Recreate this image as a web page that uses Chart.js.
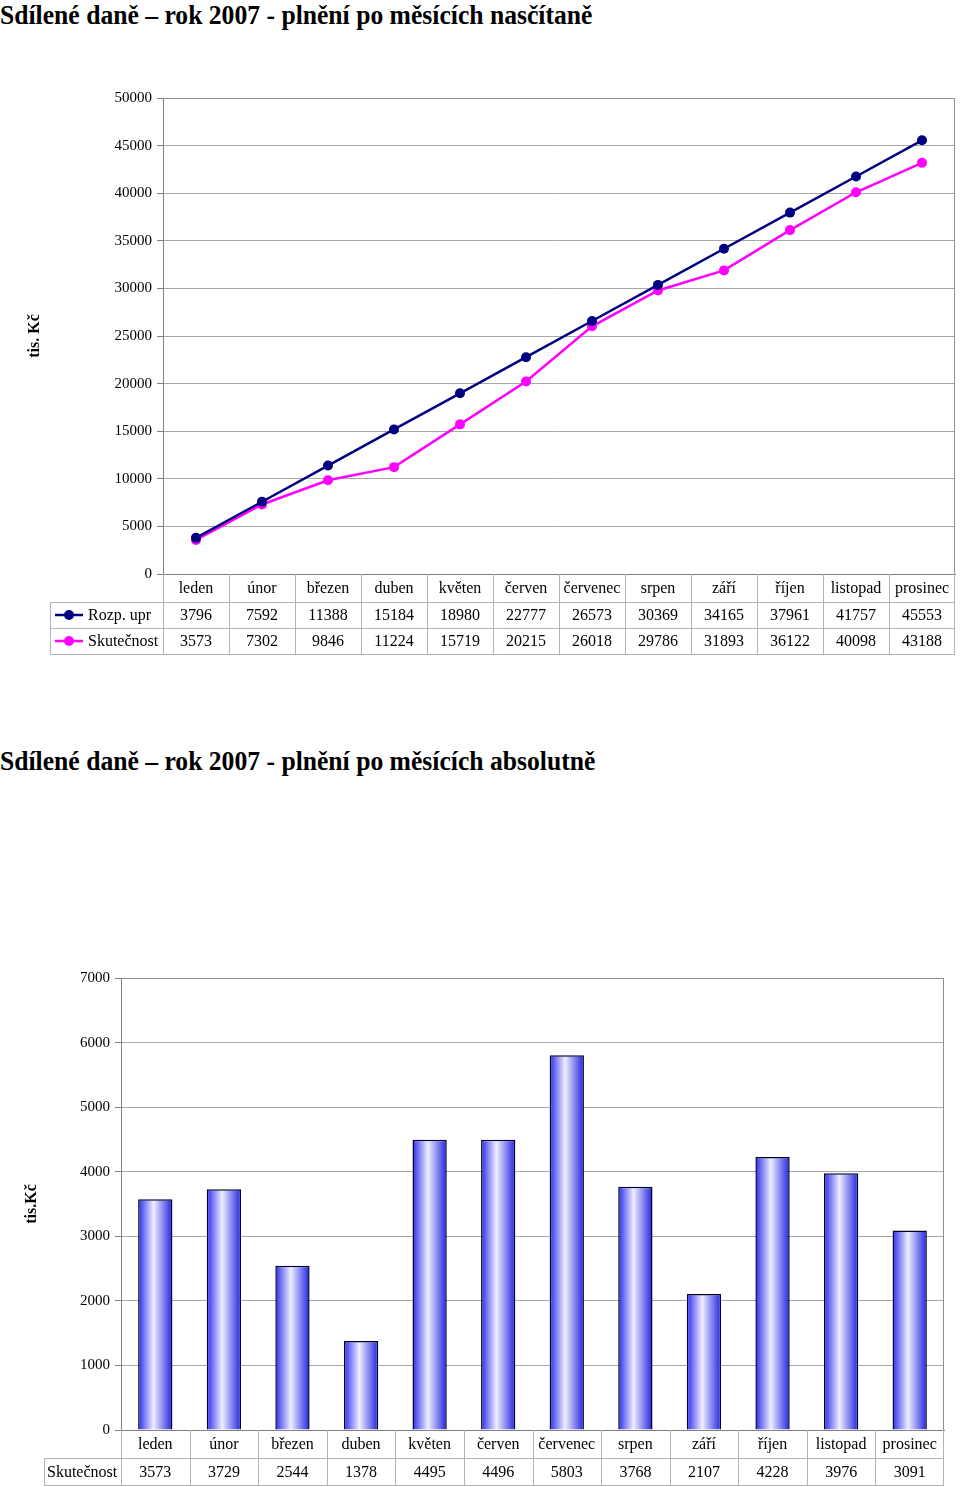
<!DOCTYPE html>
<html>
<head>
<meta charset="utf-8">
<script src="https://cdn.jsdelivr.net/npm/chart.js@4/dist/chart.umd.min.js"></script>
<style>
body{margin:0;background:#fff;width:960px;height:1487px;position:relative;overflow:hidden;font-family:"Liberation Serif","Times New Roman",serif;}
h1{position:absolute;left:0;margin:0;font-size:28px;line-height:32px;font-weight:bold;white-space:nowrap;color:#000;transform:scaleX(0.915);transform-origin:0 0;}
canvas{position:absolute;left:0;}
</style>
</head>
<body>
<h1 style="top:-1px">Sdílené daně – rok 2007 - plnění po měsících nasčítaně</h1>
<canvas id="cumChart" width="960" height="630" style="top:40px"></canvas>
<h1 style="top:745px">Sdílené daně – rok 2007 - plnění po měsících absolutně</h1>
<canvas id="monthChart" width="960" height="687" style="top:800px"></canvas>
<script>
const MONTHS = ["leden","únor","březen","duben","květen","červen","červenec","srpen","září","říjen","listopad","prosinec"];
const ROZP_UPR = [3796,7592,11388,15184,18980,22777,26573,30369,34165,37961,41757,45553];
const SKUT_CUM = [3573,7302,9846,11224,15719,20215,26018,29786,31893,36122,40098,43188];
const SKUT_MONTH = [3573,3729,2544,1378,4495,4496,5803,3768,2107,4228,3976,3091];

const FONT = "'Liberation Serif','Times New Roman',serif";
const NAVY = "#000080", MAGENTA = "#ff00ff";
const $ = (id) => document.getElementById(id);

// draws data table under the plot + y title + plot border
const tablePlugin = {
  id: "dataTable",
  afterDraw(chart, args, o){
    const ctx = chart.ctx, xs = chart.scales.x, a = chart.chartArea;
    const n = MONTHS.length, colW = xs.width / n;
    const hdrBot = a.bottom + o.headerH;
    const bot = hdrBot + o.rowH * o.rows.length;
    ctx.save();
    ctx.strokeStyle = "#b4b4b4"; ctx.lineWidth = 1;
    ctx.beginPath();
    for(let k=1;k<n;k++){
      const px = Math.round(xs.left + k*colW) + 0.5;
      ctx.moveTo(px, a.bottom); ctx.lineTo(px, bot);
    }
    ctx.moveTo(o.left+0.5, hdrBot); ctx.lineTo(o.left+0.5, bot);
    ctx.moveTo(Math.round(xs.left)+0.5, a.bottom); ctx.lineTo(Math.round(xs.left)+0.5, bot);
    ctx.moveTo(Math.round(xs.right)-0.5, a.bottom); ctx.lineTo(Math.round(xs.right)-0.5, bot);
    for(let r=0;r<=o.rows.length;r++){
      const py = Math.round(hdrBot + r*o.rowH) + 0.5;
      ctx.moveTo(o.left, py); ctx.lineTo(xs.right, py);
    }
    ctx.stroke();

    ctx.strokeStyle = "#909090";
    ctx.beginPath();
    ctx.moveTo(a.left, a.top+0.5); ctx.lineTo(Math.round(a.right)-0.5, a.top+0.5);
    ctx.lineTo(Math.round(a.right)-0.5, a.bottom);
    ctx.stroke();

    ctx.fillStyle = "#000";
    ctx.font = "16px " + FONT;
    ctx.textBaseline = "middle";
    o.rows.forEach((row, r)=>{
      const cy = hdrBot + r*o.rowH + o.rowH/2 + 1;
      ctx.textAlign = "center";
      row.values.forEach((v,i)=> ctx.fillText(String(v), xs.getPixelForValue(i), cy));
      ctx.textAlign = "left";
      if(row.color){
        ctx.strokeStyle = row.color; ctx.lineWidth = 2.5;
        ctx.beginPath(); ctx.moveTo(o.left+5, cy-1); ctx.lineTo(o.left+33, cy-1); ctx.stroke();
        ctx.fillStyle = row.color;
        ctx.beginPath(); ctx.arc(o.left+19, cy-1, 5, 0, Math.PI*2); ctx.fill();
        ctx.fillStyle = "#000";
        ctx.fillText(row.label, o.left+38, cy);
      }else{
        ctx.fillText(row.label, o.left+3, cy);
      }
    });

    ctx.translate(o.yTitleX, (a.top + a.bottom)/2);
    ctx.rotate(-Math.PI/2);
    ctx.textAlign = "center";
    ctx.font = "bold 16px " + FONT;
    ctx.fillText(o.yTitle, 0, 0);
    ctx.restore();
  }
};

function xAxis(height){
  return {
    offset: true,
    grid: { display:false, drawTicks:false },
    border: { color:"#808080", width:1 },
    ticks: { color:"#000", font:{ family:FONT, size:16 }, padding:5, maxRotation:0, autoSkip:false },
    afterFit(s){ s.height = height; }
  };
}
function yAxis(width, max, step){
  return {
    min: 0, max: max,
    grid: { color:"#a8a8a8", tickLength:6, tickColor:"#808080" },
    border: { color:"#808080", width:1 },
    ticks: { stepSize:step, color:"#000", font:{ family:FONT, size:15 }, padding:5, callback:(v)=>String(v) },
    afterFit(s){ s.width = width; }
  };
}

new Chart($("cumChart"), {
  type: "line",
  data: {
    labels: MONTHS,
    datasets: [
      { label:"Rozp. upr", data:ROZP_UPR, borderColor:NAVY, backgroundColor:NAVY, borderWidth:2.5, pointRadius:5, pointBorderWidth:0, tension:0 },
      { label:"Skutečnost", data:SKUT_CUM, borderColor:MAGENTA, backgroundColor:MAGENTA, borderWidth:2.5, pointRadius:5, pointBorderWidth:0, tension:0 }
    ]
  },
  options: {
    responsive:false, animation:false,
    layout: { padding:{ top:58, right:4, left:0, bottom:16 } },
    plugins: {
      legend:{ display:false }, tooltip:{ enabled:false },
      dataTable: {
        left:50, headerH:28, rowH:26, yTitle:"tis. Kč", yTitleX:35,
        rows: [
          { label:"Rozp. upr", values:ROZP_UPR, color:NAVY },
          { label:"Skutečnost", values:SKUT_CUM, color:MAGENTA }
        ]
      }
    },
    scales: { x: xAxis(80), y: yAxis(163, 50000, 5000) }
  },
  plugins: [tablePlugin]
});

new Chart($("monthChart"), {
  type: "bar",
  data: {
    labels: MONTHS,
    datasets: [{
      label:"Skutečnost", data:SKUT_MONTH,
      categoryPercentage:1, barPercentage:0.5,
      borderColor:"#00002a", borderWidth:1.5, borderSkipped:"bottom",
      backgroundColor(c){
        const ch = c.chart, xs = ch.scales.x;
        if(!ch.chartArea || !xs || c.dataIndex===undefined) return "#3030f0";
        const cx = xs.getPixelForValue(c.dataIndex);
        const hw = xs.width / MONTHS.length * 0.25;
        const g = ch.ctx.createLinearGradient(cx-hw, 0, cx+hw, 0);
        g.addColorStop(0, "#2a2aee");
        g.addColorStop(0.45, "#eeeeff");
        g.addColorStop(1, "#2222e2");
        return g;
      }
    }]
  },
  options: {
    responsive:false, animation:false,
    layout: { padding:{ top:178, right:16, left:0, bottom:2 } },
    plugins: {
      legend:{ display:false }, tooltip:{ enabled:false },
      dataTable: {
        left:44, headerH:28, rowH:27, yTitle:"tis.Kč", yTitleX:32,
        rows: [ { label:"Skutečnost", values:SKUT_MONTH } ]
      }
    },
    scales: { x: xAxis(55), y: yAxis(121, 7000, 1000) }
  },
  plugins: [tablePlugin]
});
</script>
</body>
</html>
